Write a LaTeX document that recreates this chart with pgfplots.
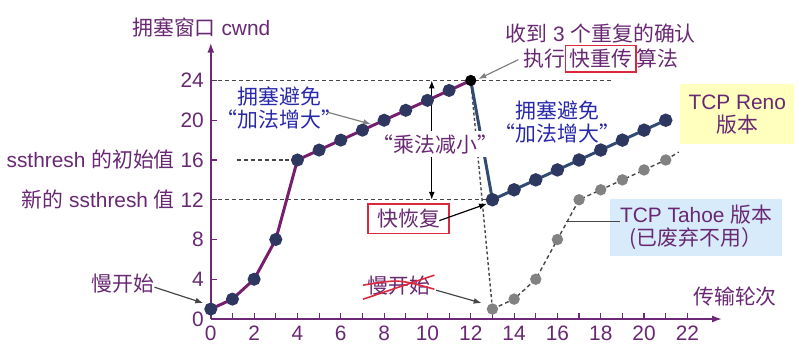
\documentclass[border=0pt]{standalone}
\usepackage{pgfplots}
\pgfplotsset{compat=1.18}
\usepackage{fontspec}
\setmainfont{Liberation Sans}
\newfontfamily\cjk{Noto Sans CJK SC}
\usetikzlibrary{arrows.meta}
\definecolor{purpleax}{RGB}{110,40,120}
\definecolor{purpletx}{RGB}{105,40,115}
\definecolor{purpleln}{RGB}{120,30,110}
\definecolor{markc}{RGB}{45,55,95}
\definecolor{renoln}{RGB}{50,75,115}
\definecolor{bluetx}{RGB}{40,40,170}
\definecolor{yellowbg}{RGB}{255,255,190}
\definecolor{bluebg}{RGB}{215,235,250}
\definecolor{redc}{RGB}{220,40,60}
\definecolor{tahoemk}{RGB}{130,130,130}
\definecolor{dashc}{RGB}{70,70,70}
\begin{document}
\begin{tikzpicture}
\begin{axis}[
  x=10.9pt, y=5pt,
  xmin=0, xmax=23.6, ymin=0, ymax=27.8,
  axis lines=left,
  axis line style={purpleax, line width=0.8pt, -{Latex[length=5pt,width=3.5pt]}},
  xtick={0,2,...,22}, minor xtick={1,3,...,21},
  ytick={0,4,8,12,16,20,24},
  yticklabels={0,4,8,{{\cjk 新的} ssthresh {\cjk 值} 12},{ssthresh {\cjk 的初始值} 16},20,24},
  tick align=inside,
  major tick length=3pt, minor tick length=3pt,
  tick style={purpleax, line width=0.6pt},
  ticklabel style={font=\fontsize{10.5}{12}\selectfont, text=purpletx},
  clip=false,
  /pgf/number format/assume math mode=true,
]
% bounding box of the whole picture
\path (axis cs:-9.495,-3.5) rectangle (axis cs:27.29,32.1);

% dashed reference lines
\addplot[dashc, line width=0.6pt, dash pattern=on 2pt off 1.5pt] coordinates {(0,24) (18.6,24)};
\addplot[dashc, line width=0.6pt, dash pattern=on 2pt off 1.5pt] coordinates {(1.2,16) (4,16)};
\addplot[dashc, line width=0.6pt, dash pattern=on 2pt off 1.5pt] coordinates {(0,12) (13,12)};

% Tahoe
\addplot[dashc, line width=0.7pt, dash pattern=on 1.5pt off 1.2pt] coordinates {(12,24) (13,1)};
\addplot[dashc, line width=0.7pt, dash pattern=on 2pt off 1.5pt, mark=*, mark size=2.5pt,
  mark options={solid, fill=tahoemk, draw=tahoemk}] coordinates {
  (13,1) (14,2) (15,4) (16,8) (17,12) (18,13) (19,14) (20,15) (21,16)};
\addplot[dashc, line width=0.7pt, dash pattern=on 2pt off 1.5pt] coordinates {(21,16) (21.6,16.8)};

% Reno
\addplot[renoln, line width=1.5pt] coordinates {(12,24) (13,12)};
\addplot[renoln, line width=1.5pt, mark=*, mark size=2.6pt,
  mark options={fill=markc, draw=markc}] coordinates {
  (13,12) (14,13) (15,14) (16,15) (17,16) (18,17) (19,18) (20,19) (21,20)};

% slow start + congestion avoidance
\addplot[purpleln, line width=1.5pt, mark=*, mark size=2.5pt,
  mark options={fill=markc, draw=markc}] coordinates {
  (0,1) (1,2) (2,4) (3,8) (4,16) (5,17) (6,18) (7,19) (8,20) (9,21) (10,22) (11,23)};
\addplot[purpleln, line width=1.5pt] coordinates {(11,23) (12,24)};
\addplot[only marks, mark=*, mark size=2.6pt, mark options={fill=black, draw=black}] coordinates {(12,24)};

% texts
\tikzset{lab/.style={font=\fontsize{10.5}{12.5}\selectfont, inner sep=1pt}}
\node[lab, text=purpletx] at (axis cs:-0.44,29.3) {{\cjk 拥塞窗口} cwnd};
\node[lab, text=purpletx] at (axis cs:24.2,2.3) {\cjk 传输轮次};

\node[lab, text=purpletx] at (axis cs:-4.04,3.6) {\cjk 慢开始};
\draw[dashc, line width=0.6pt, -{Latex[length=4pt,width=3pt]}] (axis cs:-2.6,3.2) -- (axis cs:-0.35,1.6);

\node[lab, text=bluetx, align=center] at (axis cs:3.17,21.2) {\cjk 拥塞避免\\[-1pt]\cjk “加法增大”};
\draw[gray, line width=0.6pt, -{Latex[length=4pt,width=3pt]}] (axis cs:5.4,20.8) -- (axis cs:7.4,19.6);

\node[lab, text=purpletx, align=center] at (axis cs:18.0,27.2) {{\cjk 收到} 3 {\cjk 个重复的确认}\\[0pt]{\cjk 执行}{\setlength{\fboxsep}{1.5pt}\setlength{\fboxrule}{0.8pt}\fcolorbox{redc}{white}{\cjk 快重传}}{\cjk 算法}};
\draw[gray, line width=0.6pt, -{Latex[length=4pt,width=3pt]}] (axis cs:14.2,26.1) -- (axis cs:12.35,24.15);

\node[lab, text=bluetx, align=center] at (axis cs:16.0,19.85) {\cjk 拥塞避免\\[-1pt]\cjk “加法增大”};

\node[lab, text=purpletx, align=center, fill=yellowbg, minimum width=57.5pt, minimum height=30pt] at (axis cs:24.3,20.6) {TCP Reno\\[-1pt]\cjk 版本};

% multiplicative decrease
\draw[black, line width=0.6pt, {Latex[length=4pt,width=3pt]}-{Latex[length=4pt,width=3pt]}] (axis cs:10.2,24) -- (axis cs:10.2,12);
\node[lab, text=purpletx, fill=white, inner sep=1.5pt] at (axis cs:10.37,17.6) {\cjk “乘法减小”};

% fast recovery
\node[lab, text=purpletx, draw=redc, line width=0.9pt, fill=white, minimum width=41pt, minimum height=15pt] at (axis cs:9.13,10.1) {\cjk 快恢复};
\draw[black, line width=0.6pt, -{Latex[length=4pt,width=3pt]}] (axis cs:10.55,9.9) -- (axis cs:12.75,11.6);

% crossed slow start
\node[lab, text=purpletx] (ss) at (axis cs:8.67,3.4) {\cjk 慢开始};
\draw[redc, line width=0.8pt] ([xshift=-1pt,yshift=-1pt]ss.south west) -- ([xshift=1pt,yshift=-1pt]ss.north east);
\draw[redc, line width=0.8pt] ([xshift=-1pt]ss.west) .. controls ([yshift=3pt]ss.center) .. ([xshift=1pt,yshift=-2pt]ss.east);
\draw[dashc, line width=0.6pt, -{Latex[length=4pt,width=3pt]}] (axis cs:10.4,2.9) -- (axis cs:12.5,1.6);

% Tahoe box
\node[lab, text=purpletx, align=center, fill=bluebg, minimum width=86.5pt, minimum height=29pt] at (axis cs:22.4,9.2) {TCP Tahoe {\cjk 版本}\\[-1pt]\cjk (已废弃不用）};
\draw[dashc, line width=0.6pt] (axis cs:16.4,9.8) -- (axis cs:18.9,9.8);
\end{axis}
\end{tikzpicture}
\end{document}
